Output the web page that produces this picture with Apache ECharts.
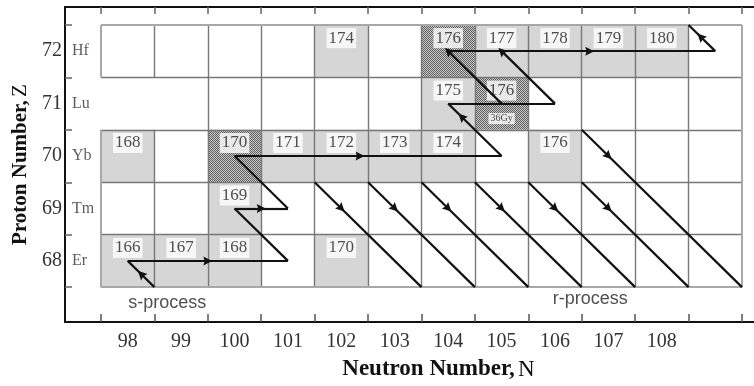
<!DOCTYPE html>
<html><head><meta charset="utf-8">
<script src="https://cdn.jsdelivr.net/npm/echarts@6/dist/echarts.min.js"></script>
<style>html,body{margin:0;padding:0;background:#fff}#c{width:754px;height:386px}</style>
</head><body><div id="c"></div>
<script>
// ---------- data ----------
const xLabels = [98, 99, 100, 101, 102, 103, 104, 105, 106, 107, 108];
const yLabels = [68, 69, 70, 71, 72];
const elements = ['Er', 'Tm', 'Yb', 'Lu', 'Hf'];
const xEdges = [97.5, 98.5, 99.5, 100.5, 101.5, 102.5, 103.5, 104.5, 105.5, 106.5, 107.5, 108.5, 109.5];
const yEdges = [67.5, 68.5, 69.5, 70.5, 71.5, 72.5];
// vertical cell edges missing in a row: [edgeN, rowZ]
const gridGaps = [[97.5, 71], [98.5, 71]];
// stable isotopes [N, Z, mass]
const stableCells = [
  [102, 72, '174'], [105, 72, '177'], [106, 72, '178'], [107, 72, '179'], [108, 72, '180'],
  [104, 71, '175'],
  [98, 70, '168'], [101, 70, '171'], [102, 70, '172'], [103, 70, '173'], [104, 70, '174'], [106, 70, '176'],
  [100, 69, '169'],
  [98, 68, '166'], [99, 68, '167'], [100, 68, '168'], [102, 68, '170']
];
// s-only / branching isotopes [N, Z, mass]
const sOnlyCells = [[104, 72, '176'], [105, 71, '176'], [100, 70, '170']];
const halfLifeNotes = [[105, 71, '36Gy']];
// s-process path segments [[N,Z] from, [N,Z] to]
const sSegments = [
  [[98.5, 67.5], [98, 68]],
  [[98, 68], [101, 68]],
  [[101, 68], [100, 69]],
  [[100, 69], [101, 69]],
  [[101, 69], [100, 70]],
  [[100, 70], [105, 70]],
  [[105, 70], [104, 71]],
  [[104, 71], [106, 71]],
  [[105, 71], [104, 72]],
  [[106, 71], [105, 72]],
  [[104, 72], [109, 72]],
  [[109, 72], [108.5, 72.5]]
];
// where along each segment the arrowhead sits (null = none)
const sArrowAt = [0.5, 0.5, null, 0.5, null, 0.47, 0.75, null, 1, 1, 0.53, 0.55];
// r-process decay lines: start [N, Z], run down-right to Z = 67.5
const rStarts = [[101.5, 69.5], [102.5, 69.5], [103.5, 69.5], [104.5, 69.5], [105.5, 69.5], [106.5, 69.5], [106.5, 70.5]];
const rEndZ = 67.5;
const processLabels = [[98.74, 67.2, 's-process'], [106.66, 67.27, 'r-process']];

// ---------- build ----------
const SERIF = 'Liberation Serif';
const SANS = 'Liberation Sans';
const chart = echarts.init(document.getElementById('c'), null, {renderer: 'canvas'});

// checker pattern for s-only cells
const pat = document.createElement('canvas');
pat.width = 2; pat.height = 2;
const pctx = pat.getContext('2d');
pctx.fillStyle = '#c8c8c8'; pctx.fillRect(0, 0, 2, 2);
pctx.fillStyle = '#606060'; pctx.fillRect(0, 0, 1, 1); pctx.fillRect(1, 1, 1, 1);

const isGap = (x, z) => gridGaps.some(g => g[0] === x && g[1] === z);
const innerGrid = [], outerGrid = [];
xEdges.forEach((x, i) => {
  yLabels.forEach(z => {
    if (isGap(x, z)) return;
    const seg = {coords: [[x, z - 0.5], [x, z + 0.5]]};
    (i === 0 || i === xEdges.length - 1 ? outerGrid : innerGrid).push(seg);
  });
});
yEdges.forEach((y, i) => {
  const seg = {coords: [[xEdges[0], y], [xEdges[xEdges.length - 1], y]]};
  (i === 0 || i === yEdges.length - 1 ? outerGrid : innerGrid).push(seg);
});

const arrowSegs = [], plainSegs = [];
function addSeg(a, b, f) {
  if (f === null) { plainSegs.push({coords: [a, b]}); return; }
  if (f === 1) { arrowSegs.push({coords: [a, b]}); return; }
  const p = [a[0] + f * (b[0] - a[0]), a[1] + f * (b[1] - a[1])];
  arrowSegs.push({coords: [a, p]});
  plainSegs.push({coords: [p, b]});
}
sSegments.forEach((s, i) => addSeg(s[0], s[1], sArrowAt[i]));
rStarts.forEach(s => {
  const end = [s[0] + (s[1] - rEndZ), rEndZ];
  const mid = [s[0] + 0.5, s[1] - 0.5];
  arrowSegs.push({coords: [s, mid]});
  plainSegs.push({coords: [mid, end]});
});

const xMin = 96.826, xMax = 109.725, yMin = 66.835, yMax = 72.842;

const cellRender = (fill) => (params, api) => {
  const c = api.coord([api.value(0), api.value(1)]);
  const s = api.size([1, 1]);
  return {type: 'rect', shape: {x: c[0] - s[0] / 2, y: c[1] - s[1] / 2, width: s[0], height: s[1]}, style: {fill: fill}};
};

const option = {
  animation: false,
  backgroundColor: '#fff',
  grid: {left: 65, right: 0, top: 7, bottom: 63},
  xAxis: [{
    type: 'value', min: xMin, max: xMax, position: 'bottom',
    axisLine: {lineStyle: {color: '#111', width: 2}},
    axisTick: {inside: true, length: 8, lineStyle: {color: '#555', width: 1.5}, customValues: xEdges},
    axisLabel: {customValues: xLabels, fontFamily: SERIF, fontSize: 20, color: '#333', margin: 10},
    splitLine: {show: false},
    name: '{b|Neutron Number,} {n|N}', nameLocation: 'middle', nameGap: 36,
    nameTextStyle: {padding: [0, 0, 0, 58], rich: {
      b: {fontFamily: SERIF, fontWeight: 'bold', fontSize: 23, color: '#111'},
      n: {fontFamily: SERIF, fontSize: 23, color: '#111'}}}
  }, {
    type: 'value', min: xMin, max: xMax, position: 'top',
    axisLine: {lineStyle: {color: '#111', width: 2}},
    axisTick: {inside: true, length: 7, lineStyle: {color: '#666', width: 1.5}, customValues: xEdges},
    axisLabel: {show: false}, splitLine: {show: false}
  }],
  yAxis: [{
    type: 'value', min: yMin, max: yMax,
    axisLine: {lineStyle: {color: '#111', width: 2}},
    axisTick: {inside: true, length: 7, lineStyle: {color: '#666', width: 1.5}, customValues: yEdges},
    axisLabel: {customValues: yLabels, fontFamily: SERIF, fontSize: 20, color: '#333', margin: 3},
    splitLine: {show: false},
    name: '{b|Proton Number,} {n|Z}', nameLocation: 'middle', nameGap: 19, nameRotate: 90,
    nameTextStyle: {rich: {
      b: {fontFamily: SERIF, fontWeight: 'bold', fontSize: 21, color: '#111'},
      n: {fontFamily: SERIF, fontSize: 21, color: '#111'}}}
  }],
  series: [
    {type: 'custom', z: 1, data: stableCells.map(d => [d[0], d[1]]), encode: {x: 0, y: 1},
     renderItem: cellRender('#d6d6d6'), silent: true},
    {type: 'custom', z: 1, data: sOnlyCells.map(d => [d[0], d[1]]), encode: {x: 0, y: 1},
     renderItem: cellRender({image: pat, repeat: 'repeat'}), silent: true},
    {type: 'lines', coordinateSystem: 'cartesian2d', z: 2, data: innerGrid, symbol: 'none',
     lineStyle: {color: '#777', width: 1.4, opacity: 1}, silent: true},
    {type: 'lines', coordinateSystem: 'cartesian2d', z: 2, data: outerGrid, symbol: 'none',
     lineStyle: {color: '#a8a8a8', width: 2, opacity: 1}, silent: true},
    {type: 'scatter', z: 3, symbolSize: 0, data: stableCells.concat(sOnlyCells).map(d => [d[0], d[1], d[2]]),
     label: {show: true, formatter: p => p.value[2], offset: [0, -13], fontFamily: SERIF, fontSize: 17,
       color: '#222', backgroundColor: '#fff', padding: [2, 2, 1, 2], lineHeight: 17}, silent: true},
    {type: 'scatter', z: 3, symbolSize: 0, data: halfLifeNotes.map(d => [d[0], d[1], d[2]]),
     label: {show: true, formatter: p => p.value[2], offset: [0, 15], fontFamily: SERIF, fontSize: 10,
       color: '#222', backgroundColor: '#fff', padding: [1, 2, 0, 2]}, silent: true},
    {type: 'scatter', z: 3, symbolSize: 0, data: elements.map((e, i) => [xMin, yLabels[i], e]),
     label: {show: true, position: 'right', formatter: p => p.value[2], offset: [2, 0], fontFamily: SERIF,
       fontSize: 16, color: '#333'}, silent: true},
    {type: 'scatter', z: 3, symbolSize: 0, data: processLabels,
     label: {show: true, formatter: p => p.value[2], fontFamily: SANS, fontSize: 18, color: '#222'}, silent: true},
    {type: 'lines', coordinateSystem: 'cartesian2d', z: 4, data: plainSegs, symbol: 'none',
     lineStyle: {color: '#111', width: 2.2, opacity: 1}, silent: true},
    {type: 'lines', coordinateSystem: 'cartesian2d', z: 4, data: arrowSegs,
     symbol: ['none', 'path://M5,0 L10,13 L5,11 L0,13 Z'], symbolSize: 9,
     lineStyle: {color: '#111', width: 2.2, opacity: 1}, silent: true}
  ]
};
chart.setOption(option);
</script>
</body></html>
